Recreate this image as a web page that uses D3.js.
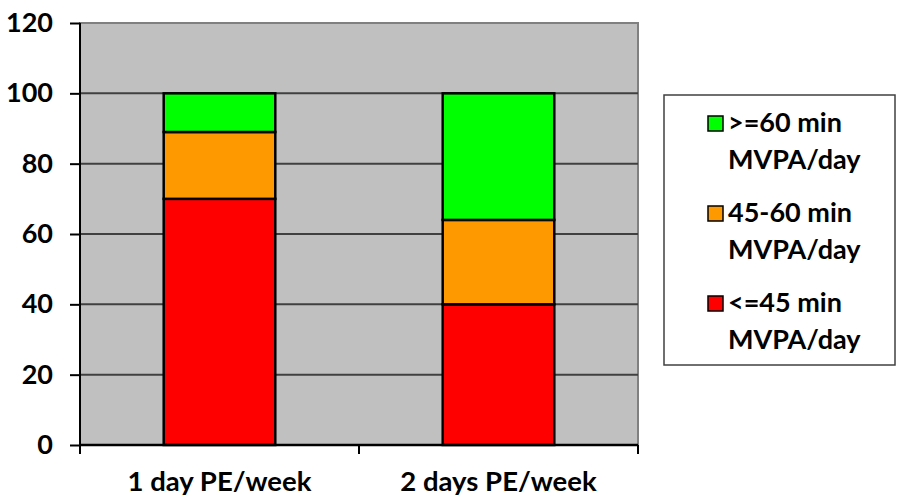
<!DOCTYPE html>
<html><head><meta charset="utf-8">
<script src="https://cdn.jsdelivr.net/npm/d3@7"></script>
<style>body{margin:0;background:#fff}svg{display:block}</style>
</head><body>
<svg id="c" width="898" height="498"></svg>
<script>
const categories = ["1 day PE/week", "2 days PE/week"];
const seriesNames = ["<=45 min MVPA/day", "45-60 min MVPA/day", ">=60 min MVPA/day"];
const low = [70, 40];
const mid = [19, 24];
const high = [11, 36];
const yTicks = [0, 20, 40, 60, 80, 100, 120];
const colors = ["#FF0000", "#FF9900", "#00FF00"];
const legendLines = [[">=60 min", "MVPA/day"], ["45-60 min", "MVPA/day"], ["<=45 min", "MVPA/day"]];

const svg = d3.select("#c");
const L = 80, R = 638, T = 23, B = 445;
const font = "Lato, 'Open Sans', sans-serif";

const x = d3.scaleBand().domain(categories).range([L, R]).paddingInner(0.6).paddingOuter(0.3);
const y = d3.scaleLinear().domain([0, 120]).range([B, T]);

// plot background
svg.append("rect").attr("x", L).attr("y", T).attr("width", R - L).attr("height", B - T)
  .attr("fill", "#C0C0C0").attr("stroke", "#808080").attr("stroke-width", 2);

// gridlines
svg.append("g").selectAll("line").data(yTicks.filter(d => d > 0 && d < 120)).join("line")
  .attr("x1", L).attr("x2", R).attr("y1", d => y(d)).attr("y2", d => y(d))
  .attr("stroke", "#404040").attr("stroke-width", 2);

// stacked bars
const rows = categories.map((c, i) => ({cat: c, s0: low[i], s1: mid[i], s2: high[i]}));
const stack = d3.stack().keys(["s0", "s1", "s2"])(rows);
svg.append("g").selectAll("g").data(stack).join("g")
  .attr("fill", (d, i) => colors[i])
  .selectAll("rect").data(d => d).join("rect")
  .attr("x", d => x(d.data.cat))
  .attr("width", x.bandwidth())
  .attr("y", d => y(d[1]))
  .attr("height", d => y(d[0]) - y(d[1]))
  .attr("stroke", "#000").attr("stroke-width", 2.5);

// y axis
const ya = svg.append("g").attr("transform", `translate(${L},0)`)
  .call(d3.axisLeft(y).tickValues(yTicks).tickSize(10).tickPadding(17));
ya.select(".domain").attr("stroke", "#000").attr("stroke-width", 2).attr("d", `M-0,${T}V${B + 8}`);
ya.selectAll(".tick line").attr("stroke", "#000").attr("stroke-width", 2);
ya.selectAll("text").attr("font-family", font).attr("font-weight", "bold")
  .attr("font-size", 27).attr("fill", "#000");

// x axis
svg.append("line").attr("x1", L).attr("x2", R).attr("y1", B).attr("y2", B)
  .attr("stroke", "#000").attr("stroke-width", 2.5);
const bounds = [L, (x(categories[0]) + x.bandwidth() + x(categories[1])) / 2, R];
svg.append("g").selectAll("line").data(bounds).join("line")
  .attr("x1", d => d).attr("x2", d => d).attr("y1", B).attr("y2", B + 9)
  .attr("stroke", "#000").attr("stroke-width", 2);
svg.append("g").selectAll("text").data(categories).join("text")
  .attr("x", d => x(d) + x.bandwidth() / 2).attr("y", 491)
  .attr("text-anchor", "middle").attr("font-family", font).attr("font-weight", "bold")
  .attr("font-size", 27.5).attr("fill", "#000").text(d => d);

// legend
const lg = svg.append("g");
lg.append("rect").attr("x", 664).attr("y", 95).attr("width", 231).attr("height", 270)
  .attr("fill", "#fff").attr("stroke", "#404040").attr("stroke-width", 1.5);
const legendColors = [colors[2], colors[1], colors[0]];
const groupY = [123, 213, 303];
legendLines.forEach((lines, i) => {
  lg.append("rect").attr("x", 708).attr("y", groupY[i] - 7).attr("width", 15).attr("height", 15)
    .attr("fill", legendColors[i]).attr("stroke", "#000").attr("stroke-width", 1.5);
  lines.forEach((t, j) => {
    lg.append("text").attr("x", 728).attr("y", groupY[i] + j * 37)
      .attr("dy", "0.35em").attr("font-family", font).attr("font-weight", "bold")
      .attr("font-size", 27).attr("fill", "#000").text(t);
  });
});
</script>
</body></html>
